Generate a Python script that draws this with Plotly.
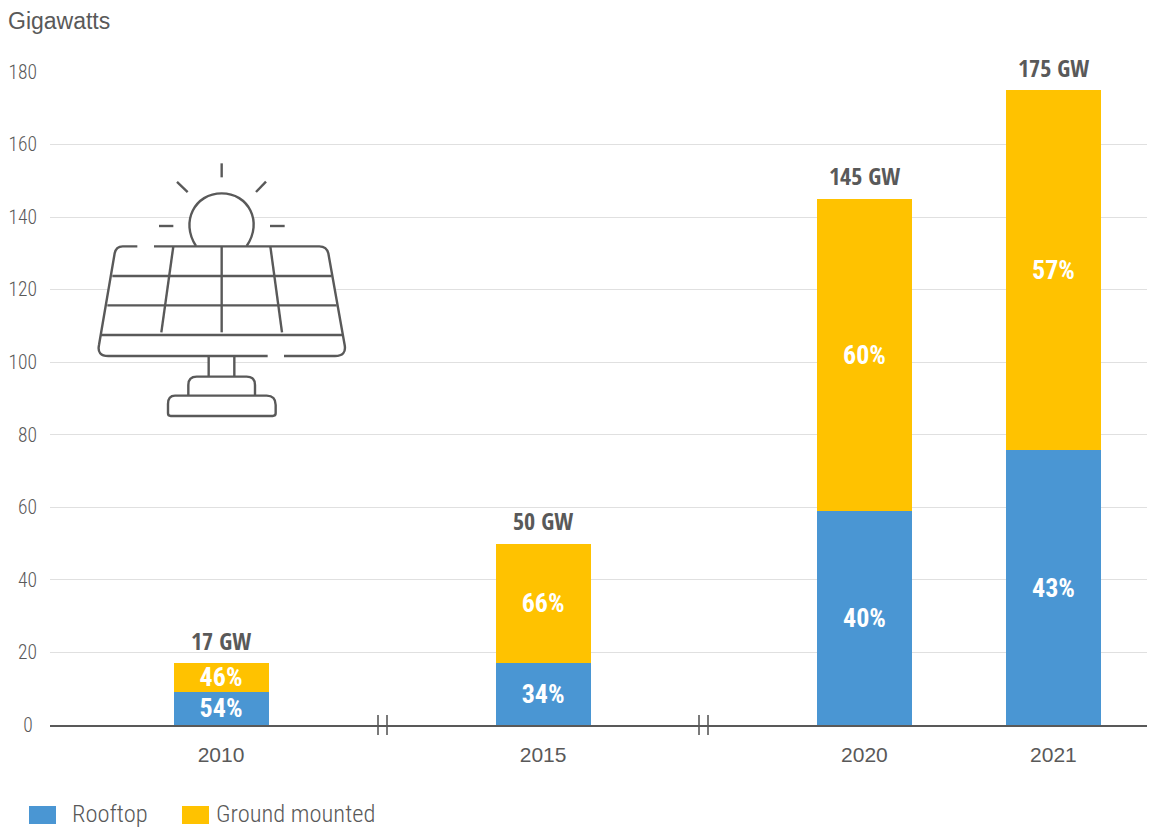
import plotly.graph_objects as go

years = ["2010", "2015", "2020", "2021"]
x_positions = [0, 1.704, 3.404, 4.404]
rooftop = [9.2, 17, 59, 75.8]
ground = [7.8, 33, 86, 99.2]
totals = [17, 50, 145, 175]
rooftop_pct = ["54%", "34%", "40%", "43%"]
ground_pct = ["46%", "66%", "60%", "57%"]
total_labels = ["17 GW", "50 GW", "145 GW", "175 GW"]
y_ticks = [0, 20, 40, 60, 80, 100, 120, 140, 160, 180]
y_tick_text = ["0\u00a0", "20", "40", "60", "80", "100", "120", "140", "160", "180"]

BLUE = "#4A96D3"
GOLD = "#FFC200"
GREY = "#595959"
WIDE = "Liberation Sans, sans-serif"
COND = "Roboto Condensed"
COND2 = "Open Sans Condensed"
W, H = 1160, 828
L, R, T, B = 50, 13, 72, 103


def px(x):
    return (x - L) / (W - L - R)


def py(y):
    return 1 - (y - T) / (H - T - B)


def zoom_pt(x, y):
    return f"{px(80 + x / 3):.5f},{py(150 + y / 3):.5f}"


def path(*cmds):
    out = []
    for c in cmds:
        op, pts = c[0], c[1:]
        out.append(op + " ".join(zoom_pt(*p) for p in pts))
    return " ".join(out)


fig = go.Figure()
for name, vals, labels, color in [("Rooftop", rooftop, rooftop_pct, BLUE),
                                  ("Ground mounted", ground, ground_pct, GOLD)]:
    fig.add_bar(name=name, x=x_positions, y=vals, width=0.503, marker_color=color, marker_line_width=0,
                text=labels, textposition="inside", insidetextanchor="middle", textangle=0,
                constraintext="none", textfont=dict(family=COND, size=26, color="white", weight="bold"),
                hoverinfo="skip")

shapes = []


def stroke(p, fill=None, width=2.4):
    shapes.append(dict(type="path", path=p, xref="paper", yref="paper", layer="above",
                       line=dict(color=GREY, width=width), fillcolor=fill))


def mask(p):
    shapes.append(dict(type="path", path=p, xref="paper", yref="paper", layer="above",
                       line=dict(width=0), fillcolor="white"))


sun = path(("M", (348, 288)), ("C", (300, 215), (345, 130), (425, 130)),
           ("C", (505, 130), (550, 215), (500, 288)))
panel = [("M", (128, 289)), ("Q", (108, 289), (104, 310)), ("L", (57, 585)), ("Q", (50, 618), (85, 618)),
         ("L", (765, 618)), ("Q", (800, 618), (794, 585)), ("L", (745, 310)), ("Q", (740, 289), (718, 289)), ("Z",)]

mask(sun + " Z")
mask(path(*panel))
mask(path(("M", (386, 618)), ("L", (463, 618)), ("L", (463, 680)), ("L", (386, 680)), ("Z",)))

stroke(sun)
stroke(path(("M", (172, 289)), ("L", (128, 289)), ("Q", (108, 289), (104, 310)), ("L", (57, 585)),
            ("Q", (50, 618), (85, 618)), ("L", (563, 618))))
stroke(path(("M", (612, 618)), ("L", (765, 618)), ("Q", (800, 618), (794, 585)), ("L", (745, 310)),
            ("Q", (740, 289), (718, 289)), ("L", (222, 289))))
for a, b in [((97, 378), (755, 378)), ((82, 466), (770, 466)), ((62, 555), (788, 555)),
             ((425, 289), (425, 547)), ((280, 289), (244, 547)), ((571, 289), (606, 547)),
             ((386, 618), (386, 680)), ((463, 618), (463, 680)),
             ((425, 40), (425, 82)), ((291, 96), (323, 126)), ((558, 95), (528, 126)),
             ((237, 228), (280, 228)), ((570, 228), (614, 228))]:
    stroke(path(("M", a), ("L", b)))
stroke(path(("M", (325, 737)), ("L", (325, 705)), ("Q", (325, 680), (350, 680)), ("L", (500, 680)),
            ("Q", (525, 680), (525, 705)), ("L", (525, 737))))
stroke(path(("M", (285, 737)), ("L", (560, 737)), ("Q", (587, 737), (587, 765)), ("L", (587, 790)),
            ("Q", (587, 798), (578, 798)), ("L", (272, 798)), ("Q", (264, 798), (264, 790)), ("L", (264, 762)),
            ("Q", (264, 737), (285, 737)), ("Z",)))

for bx in [378, 387, 699, 708]:
    shapes.append(dict(type="line", xref="paper", yref="paper", layer="above",
                       x0=px(bx), x1=px(bx), y0=py(715), y1=py(735), line=dict(color=GREY, width=1.6)))

for x0, c in [(29, BLUE), (182, GOLD)]:
    shapes.append(dict(type="rect", xref="paper", yref="paper", layer="above",
                       x0=px(x0), x1=px(x0 + 27), y0=py(824), y1=py(806), fillcolor=c, line=dict(width=0)))

annotations = [
    dict(text="Gigawatts", x=px(6), y=py(21), xref="paper", yref="paper", xanchor="left", yanchor="middle",
         showarrow=False, font=dict(family=WIDE, size=23, color=GREY)),
    dict(text="Rooftop", x=px(70), y=py(814), xref="paper", yref="paper", xanchor="left", yanchor="middle",
         showarrow=False, font=dict(family=COND, size=24.5, color=GREY, weight=300)),
    dict(text="Ground mounted", x=px(214), y=py(814), xref="paper", yref="paper", xanchor="left", yanchor="middle",
         showarrow=False, font=dict(family=COND, size=24.5, color=GREY, weight=300)),
]
for xp, total, label in zip(x_positions, totals, total_labels):
    annotations.append(dict(text=label, x=xp, y=total, xref="x", yref="y", yanchor="middle", yshift=23,
                            showarrow=False, font=dict(family=COND2, size=24, color=GREY, weight=800)))

fig.update_layout(
    width=W, height=H, barmode="stack", showlegend=False, paper_bgcolor="white", plot_bgcolor="white",
    margin=dict(l=L, r=R, t=T, b=B, pad=0),
    shapes=shapes, annotations=annotations,
    xaxis=dict(range=[-0.905, 4.899], tickmode="array", tickvals=x_positions, ticktext=years,
               showgrid=False, zeroline=False, showline=True, linecolor=GREY, linewidth=2, ticks="",
               tickfont=dict(family=WIDE, size=21, color=GREY), ticklabelstandoff=10, automargin=False),
    yaxis=dict(range=[0, 180], tickmode="array", tickvals=y_ticks, ticktext=y_tick_text, showgrid=True,
               gridcolor="#E0E0E0", gridwidth=1,
               zeroline=False, showline=False, ticks="", ticklabelstandoff=12, automargin=False,
               tickfont=dict(family=COND, size=19.5, color=GREY, weight=300)),
)

fig.write_html("out.html", config=dict(displayModeBar=False),
               post_script="document.body.style.margin='0';document.body.style.overflow='hidden';")
